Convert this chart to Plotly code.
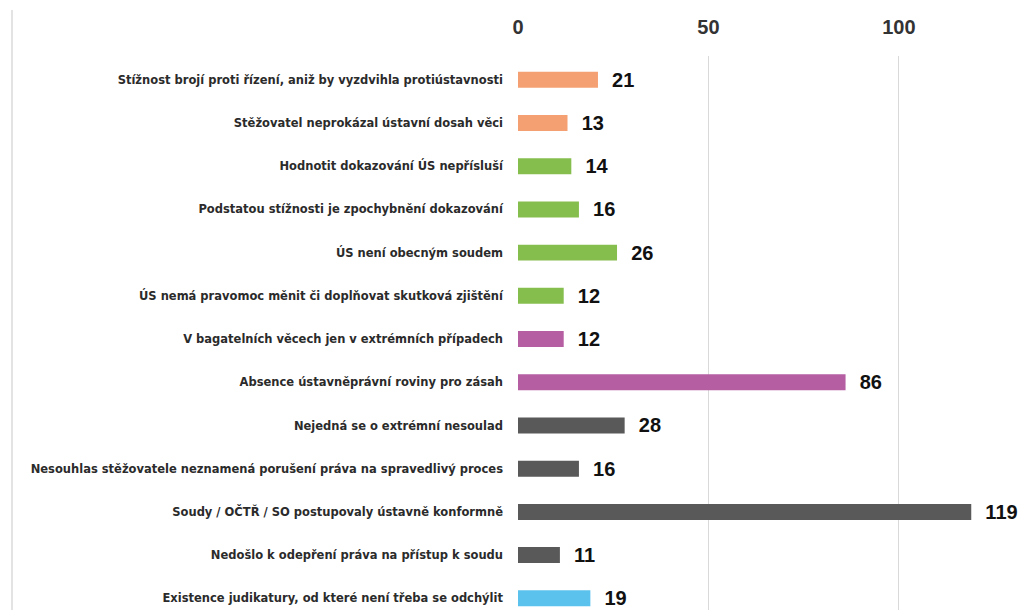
import plotly.graph_objects as go

categories = [
    "Stížnost brojí proti řízení, aniž by vyzdvihla protiústavnosti",
    "Stěžovatel neprokázal ústavní dosah věci",
    "Hodnotit dokazování ÚS nepřísluší",
    "Podstatou stížnosti je zpochybnění dokazování",
    "ÚS není obecným soudem",
    "ÚS nemá pravomoc měnit či doplňovat skutková zjištění",
    "V bagatelních věcech jen v extrémních případech",
    "Absence ústavněprávní roviny pro zásah",
    "Nejedná se o extrémní nesoulad",
    "Nesouhlas stěžovatele neznamená porušení práva na spravedlivý proces",
    "Soudy / OČTŘ / SO postupovaly ústavně konformně",
    "Nedošlo k odepření práva na přístup k soudu",
    "Existence judikatury, od které není třeba se odchýlit",
]
values = [21, 13, 14, 16, 26, 12, 12, 86, 28, 16, 119, 11, 19]
colors = ["#F4A073", "#F4A073", "#86BE4E", "#86BE4E", "#86BE4E", "#86BE4E",
          "#B55EA2", "#B55EA2", "#595959", "#595959", "#595959", "#595959", "#5BC2EE"]
tick_vals = [0, 50, 100]

fig = go.Figure(go.Bar(
    y=categories, x=values, orientation="h",
    marker=dict(color=colors, line=dict(width=0)),
    width=0.37,
    text=values,
    texttemplate="\u00a0\u00a0%{x}",
    textposition="outside",
    constraintext="none",
    textfont=dict(family="Liberation Sans", size=20, color="#111111", weight="bold"),
    cliponaxis=False,
    hoverinfo="skip",
))

fig.update_layout(
    width=1020, height=610,
    margin=dict(l=518, r=0, t=56, b=0),
    paper_bgcolor="white", plot_bgcolor="white",
    showlegend=False,
    xaxis=dict(
        side="top", range=[0, 131.8], tickvals=tick_vals,
        showgrid=True, gridcolor="#d9d9d9", gridwidth=1,
        zeroline=False, showline=False, ticks="",
        ticklabelstandoff=17,
        tickfont=dict(family="Liberation Sans", size=20, color="#333333", weight="bold"),
    ),
    yaxis=dict(
        type="category", categoryorder="array", categoryarray=categories,
        range=[12.27, -0.55], showgrid=False, zeroline=False, showline=False,
        ticks="", ticklabelstandoff=14,
        tickfont=dict(family="DejaVu Sans", size=11.5, color="#2b2b2b", weight="bold"),
    ),
    shapes=[dict(type="line", xref="paper", yref="paper",
                 x0=-1.008, x1=-1.008, y0=1.083, y1=0,
                 line=dict(color="#e3e3e3", width=2))],
)

fig.write_html(
    "out.html",
    config={"displayModeBar": False},
    post_script="document.body.style.margin='0';document.body.style.overflow='hidden';",
)
